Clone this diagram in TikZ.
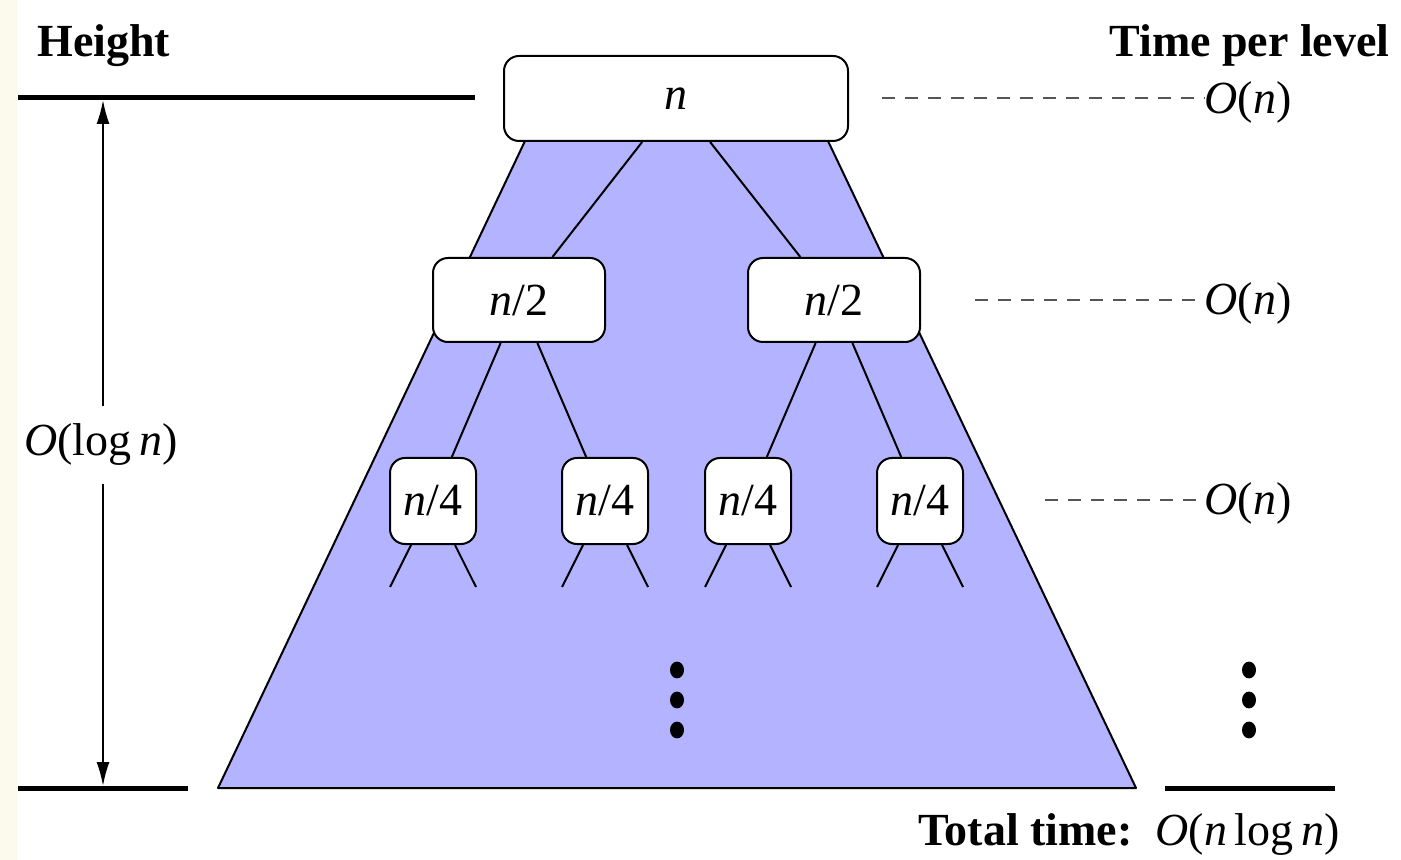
\documentclass[tikz,border=0pt]{standalone}
\usepackage{fontspec}
\setmainfont{Liberation Serif}
\usepackage{xcolor}
\definecolor{treeblue}{RGB}{179,179,255}
\definecolor{paper}{RGB}{252,250,237}
\definecolor{dashgray}{RGB}{85,85,85}
\usepackage{tikz}
\usetikzlibrary{
    arrows.meta,
    positioning,
    calc
}
\newcommand{\lvlfont}{\fontsize{23}{27}\selectfont}
\tikzset{
    rootbox/.style={draw, fill=white, line width=1pt, rounded corners=7.5pt, inner sep=0pt,
        minimum width=172pt, minimum height=42.5pt, font=\lvlfont},
    halfbox/.style={rootbox, minimum width=86pt, minimum height=42pt},
    quarterbox/.style={rootbox, minimum width=43pt, minimum height=43pt},
    costlabel/.style={inner sep=0pt, font=\lvlfont},
    levelline/.style={dashgray, dashed, dash pattern=on 6.5pt off 5pt, line width=0.7pt},
    thickrule/.style={line width=2.5pt},
    heightarrow/.style={line width=1pt, {Latex[length=12pt,width=6.5pt]}-{Latex[length=12pt,width=6.5pt]}}
}

\begin{document}
\begin{tikzpicture}[x=0.5pt, y=-0.5pt]
    \useasboundingbox (0,0) rectangle (1401,860);
    \fill[white] (0,0) rectangle (1401,860);
    \fill[paper] (0,0) rectangle (17,860);

    \filldraw[fill=treeblue, line width=1pt, line join=round] (525,141) -- (218,788) -- (1136,788) -- (828,141);

    \node[rootbox] (root) at (676,98.5) {\textit{n}};
    \node[halfbox] (h1) at (519,300) {\textit{n}/2};
    \node[halfbox] (h2) at (834,300) {\textit{n}/2};
    \node[quarterbox] (q1) at (433,501) {\textit{n}/4};
    \node[quarterbox] (q2) at (605,501) {\textit{n}/4};
    \node[quarterbox] (q3) at (748,501) {\textit{n}/4};
    \node[quarterbox] (q4) at (920,501) {\textit{n}/4};

    \draw[line width=1pt] (root) -- (h1);
    \draw[line width=1pt] (root) -- (h2);
    \draw[line width=1pt] (h1) -- (q1);
    \draw[line width=1pt] (h1) -- (q2);
    \draw[line width=1pt] (h2) -- (q3);
    \draw[line width=1pt] (h2) -- (q4);
    \foreach \q/\cx in {q1/433, q2/605, q3/748, q4/920} {
        \coordinate (\q-l) at (\cx-43,587);
        \coordinate (\q-r) at (\cx+43,587);
        \draw[line width=1pt] (\q) -- (\q-l);
        \draw[line width=1pt] (\q) -- (\q-r);
    }

    \foreach \dy in {670,700,730} {
        \fill (677,\dy) ellipse [x radius=3.5pt, y radius=4.2pt];
        \fill (1249,\dy) ellipse [x radius=3.5pt, y radius=4.2pt];
    }

    \node[anchor=base west, inner sep=0pt, font=\lvlfont\bfseries] (height) at (37,57) {Height};
    \node[anchor=base east, inner sep=0pt, font=\lvlfont\bfseries] (timeper) at (1390,57) {Time per level};

    \draw[thickrule] (18,98) -- (475,98);
    \draw[thickrule] (18,788) -- (188,788);
    \draw[thickrule] (1165,788) -- (1335,788);

    \coordinate (htop) at (103,100);
    \coordinate (hbot) at (103,786);
    \draw[heightarrow] (htop) -- (hbot);
    \node[fill=white, inner xsep=0pt, inner ysep=9pt, font=\lvlfont] (hlabel) at (101,445) {\textit{O}(log\,\textit{n})};

    \node[costlabel] (c1) at (1248,102) {\textit{O}(\textit{n})};
    \node[costlabel] (c2) at (1248,303) {\textit{O}(\textit{n})};
    \node[costlabel] (c3) at (1248,503) {\textit{O}(\textit{n})};
    \coordinate (d1) at (882,98);
    \coordinate (d2) at (975,300);
    \coordinate (d3) at (1045,500);
    \draw[levelline] (d1) -- (d1 -| c1.west);
    \draw[levelline] (d2) -- (d2 -| c2.west);
    \draw[levelline] (d3) -- (d3 -| c3.west);

    \node[anchor=base east, inner sep=0pt, font=\lvlfont] (total) at (1340,845)
        {\textbf{Total time:}\enspace\textit{O}(\textit{n}\,log\,\textit{n})};
\end{tikzpicture}
\end{document}
